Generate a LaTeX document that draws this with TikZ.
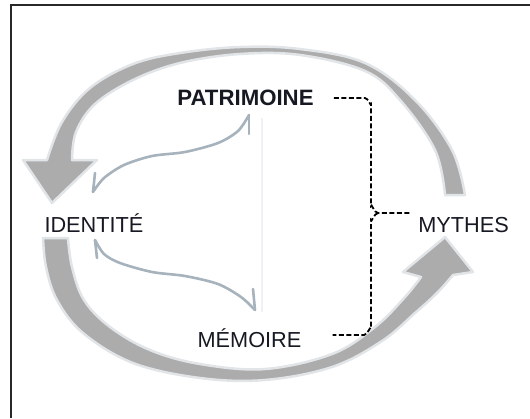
\documentclass[tikz,border=0pt]{standalone}
\usepackage{fontspec}
\setmainfont{Liberation Sans}
\definecolor{arcgray}{RGB}{172,172,172}
\definecolor{arcglow}{RGB}{226,229,232}
\definecolor{thingray}{RGB}{166,178,188}
\definecolor{framegray}{RGB}{40,40,40}
\definecolor{txt}{RGB}{22,24,34}
\begin{document}
\begin{tikzpicture}[x=1bp,y=-1bp,
  lbl/.style={font=\fontsize{21.8}{26}\selectfont, text=txt, inner sep=0pt, anchor=base},
  bigarc/.style={fill=arcgray, draw=arcglow, line width=2.5bp, line join=round},
  thinarrow/.style={draw=thingray, line width=2.6bp, line cap=round, line join=round},
  bracket/.style={draw=black, line width=1.8bp, dash pattern=on 5bp off 2.5bp},
  frameline/.style={draw=framegray, line width=2bp}]
\useasboundingbox (0,0) rectangle (530,418);
% frame (top and left edges)
\coordinate (fl) at (11,418);
\coordinate (fc) at (11,5);
\coordinate (fr) at (530,5);
\draw[frameline] (fl) -- (fc) -- (fr);
% faint vertical line
\coordinate (v1) at (262,118);
\coordinate (v2) at (262,312);
\draw[draw={rgb,255:red,238;green,242;blue,246}, line width=2bp] (v1) -- (v2);
% big upper arc (towards IDENTITE)
\path[bigarc] plot[smooth, tension=0.6] coordinates {(465,195) (452,150) (415,100) (365,63) (300,49) (240,47) (180,53) (133,64) (90,88) (62,122) (47,160)}
  -- (23,160) -- (52,203) -- (97,160)
  -- plot[smooth, tension=0.6] coordinates {(72,160) (76,132) (95,104) (133,80) (180,63) (240,54) (300,55) (365,71) (400,100) (435,150) (445,195)}
  -- cycle;
% big lower arc (towards MYTHES)
\path[bigarc] plot[smooth, tension=0.6] coordinates {(68,238) (72,267) (84,300) (110,327) (150,350) (200,364) (265,369) (332,354) (375,327) (405,297) (421,277)}
  -- (403,272) -- (445,237) -- (473,272)
  -- plot[smooth, tension=0.6] coordinates {(453,275) (437,293) (415,313) (382,341) (332,367) (265,380) (200,378) (133,363) (83,333) (57,300) (46,267) (43,238)}
  -- cycle;
% labels
\node[lbl, font=\fontsize{22.3}{26}\selectfont\bfseries] (pat) at (245.5,105) {PATRIMOINE};
\node[lbl] (ide) at (94,232) {IDENTITÉ};
\node[lbl] (myt) at (463.5,232) {MYTHES};
\node[lbl] (mem) at (249.5,347) {MÉMOIRE};
% thin arrows
\coordinate (a1) at (249,115);
\coordinate (a2) at (93,192);
\draw[thinarrow] plot[smooth] coordinates {(a2) (104,178) (124,165) (152,156) (185,152) (218,143) (238,131) (a1)};
\draw[thinarrow] (a1) -- ++(0,19);
\draw[thinarrow] (a2) -- ++(2,-19);
\coordinate (b1) at (95,240);
\coordinate (b2) at (255,310);
\draw[thinarrow] plot[smooth] coordinates {(b1) (104,254) (120,263) (152,272) (185,276) (218,284) (241,297) (b2)};
\draw[thinarrow] (b1) -- ++(2,18);
\draw[thinarrow] (b2) -- ++(-2,-21);
% dashed brace
\coordinate (bm) at (378,213);
\draw[bracket] ([xshift=20bp]pat.east |- 0,98) -- (365,98) to[out=0,in=-90] (371,104) -- (371,206) to[out=90,in=180] (bm) -- ([xshift=-8bp]myt.west |- bm);
\draw[bracket] (bm) to[out=180,in=-90] (371,220) -- (371,328) to[out=90,in=0] (364,335) -- ([xshift=31bp]mem.east |- 0,335);
\end{tikzpicture}
\end{document}
